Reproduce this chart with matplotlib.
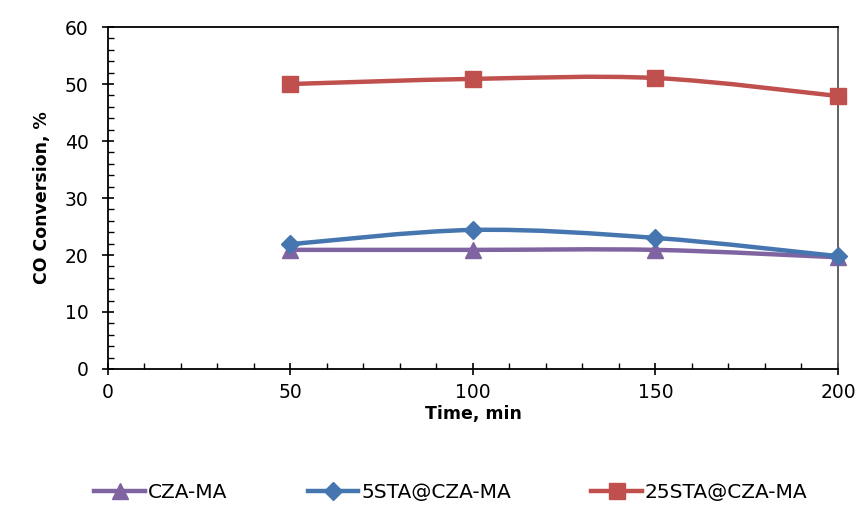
import matplotlib
matplotlib.use("Agg")
import matplotlib.pyplot as plt
import numpy as np
from matplotlib.path import Path
from matplotlib.patches import PathPatch
from matplotlib.lines import Line2D
from matplotlib.ticker import MultipleLocator

plt.rcParams['font.family'] = ['DejaVu Sans']

time_min = [50, 100, 150, 200]
cza_ma = [20.9, 20.9, 20.9, 19.6]
sta5 = [21.9, 24.4, 23.0, 19.8]
sta25 = [50.0, 50.9, 51.05, 47.9]

series = [
    ("CZA-MA", cza_ma, "#8064A2", "^", 11),
    ("5STA@CZA-MA", sta5, "#4676B0", "D", 9),
    ("25STA@CZA-MA", sta25, "#C0504D", "s", 12),
]


def smooth_path(x, y, t=1/6):
    # Excel-style smoothed line: cubic Bezier through the points
    x = np.asarray(x, float)
    y = np.asarray(y, float)
    verts = [(x[0], y[0])]
    codes = [Path.MOVETO]
    n = len(x)
    for i in range(n - 1):
        p0 = np.array([x[max(i - 1, 0)], y[max(i - 1, 0)]])
        p1 = np.array([x[i], y[i]])
        p2 = np.array([x[i + 1], y[i + 1]])
        p3 = np.array([x[min(i + 2, n - 1)], y[min(i + 2, n - 1)]])
        c1 = p1 + (p2 - p0) * t
        c2 = p2 - (p3 - p1) * t
        verts += [tuple(c1), tuple(c2), tuple(p2)]
        codes += [Path.CURVE4] * 3
    return Path(verts, codes)


fig = plt.figure(figsize=(8.59, 5.07), dpi=100)
ax = fig.add_axes([0.1257, 0.2722, 0.8498, 0.6745])

handles = []
for name, vals, color, marker, ms in series:
    patch = PathPatch(smooth_path(time_min, vals), facecolor='none',
                      edgecolor=color, lw=3.2, zorder=2)
    ax.add_patch(patch)
    ax.plot(time_min, vals, linestyle='none', marker=marker, ms=ms,
            color=color, zorder=3, clip_on=False)
    handles.append(Line2D([], [], color=color, lw=3.2, marker=marker, ms=ms))

ax.set_xlim(0, 200)
ax.set_ylim(0, 60)
ax.xaxis.set_major_locator(MultipleLocator(50))
ax.xaxis.set_minor_locator(MultipleLocator(10))
ax.yaxis.set_major_locator(MultipleLocator(10))
ax.yaxis.set_minor_locator(MultipleLocator(2))
ax.tick_params(which='major', direction='inout', length=8, width=1.2,
               labelsize=13.5)
ax.tick_params(axis='y', which='major', pad=10)
ax.tick_params(axis='x', which='major', pad=6)
ax.tick_params(which='minor', direction='in', length=4, width=1.0)
for side in ['left', 'bottom', 'top']:
    ax.spines[side].set_linewidth(1.3)
ax.spines['right'].set_color('#555555')
ax.spines['right'].set_linewidth(1.3)

ax.set_xlabel('Time, min', fontsize=12.5, fontweight='bold', labelpad=2)
ax.set_ylabel('CO Conversion, %', fontsize=12.5, fontweight='bold', labelpad=10)

fig.legend(handles, [s[0] for s in series], loc='center',
           bbox_to_anchor=(0.525, 0.028), ncol=3, frameon=False, fontsize=14.5,
           handlelength=2.5, handletextpad=0.15, columnspacing=4.0)

fig.savefig('out.png', dpi=100)
